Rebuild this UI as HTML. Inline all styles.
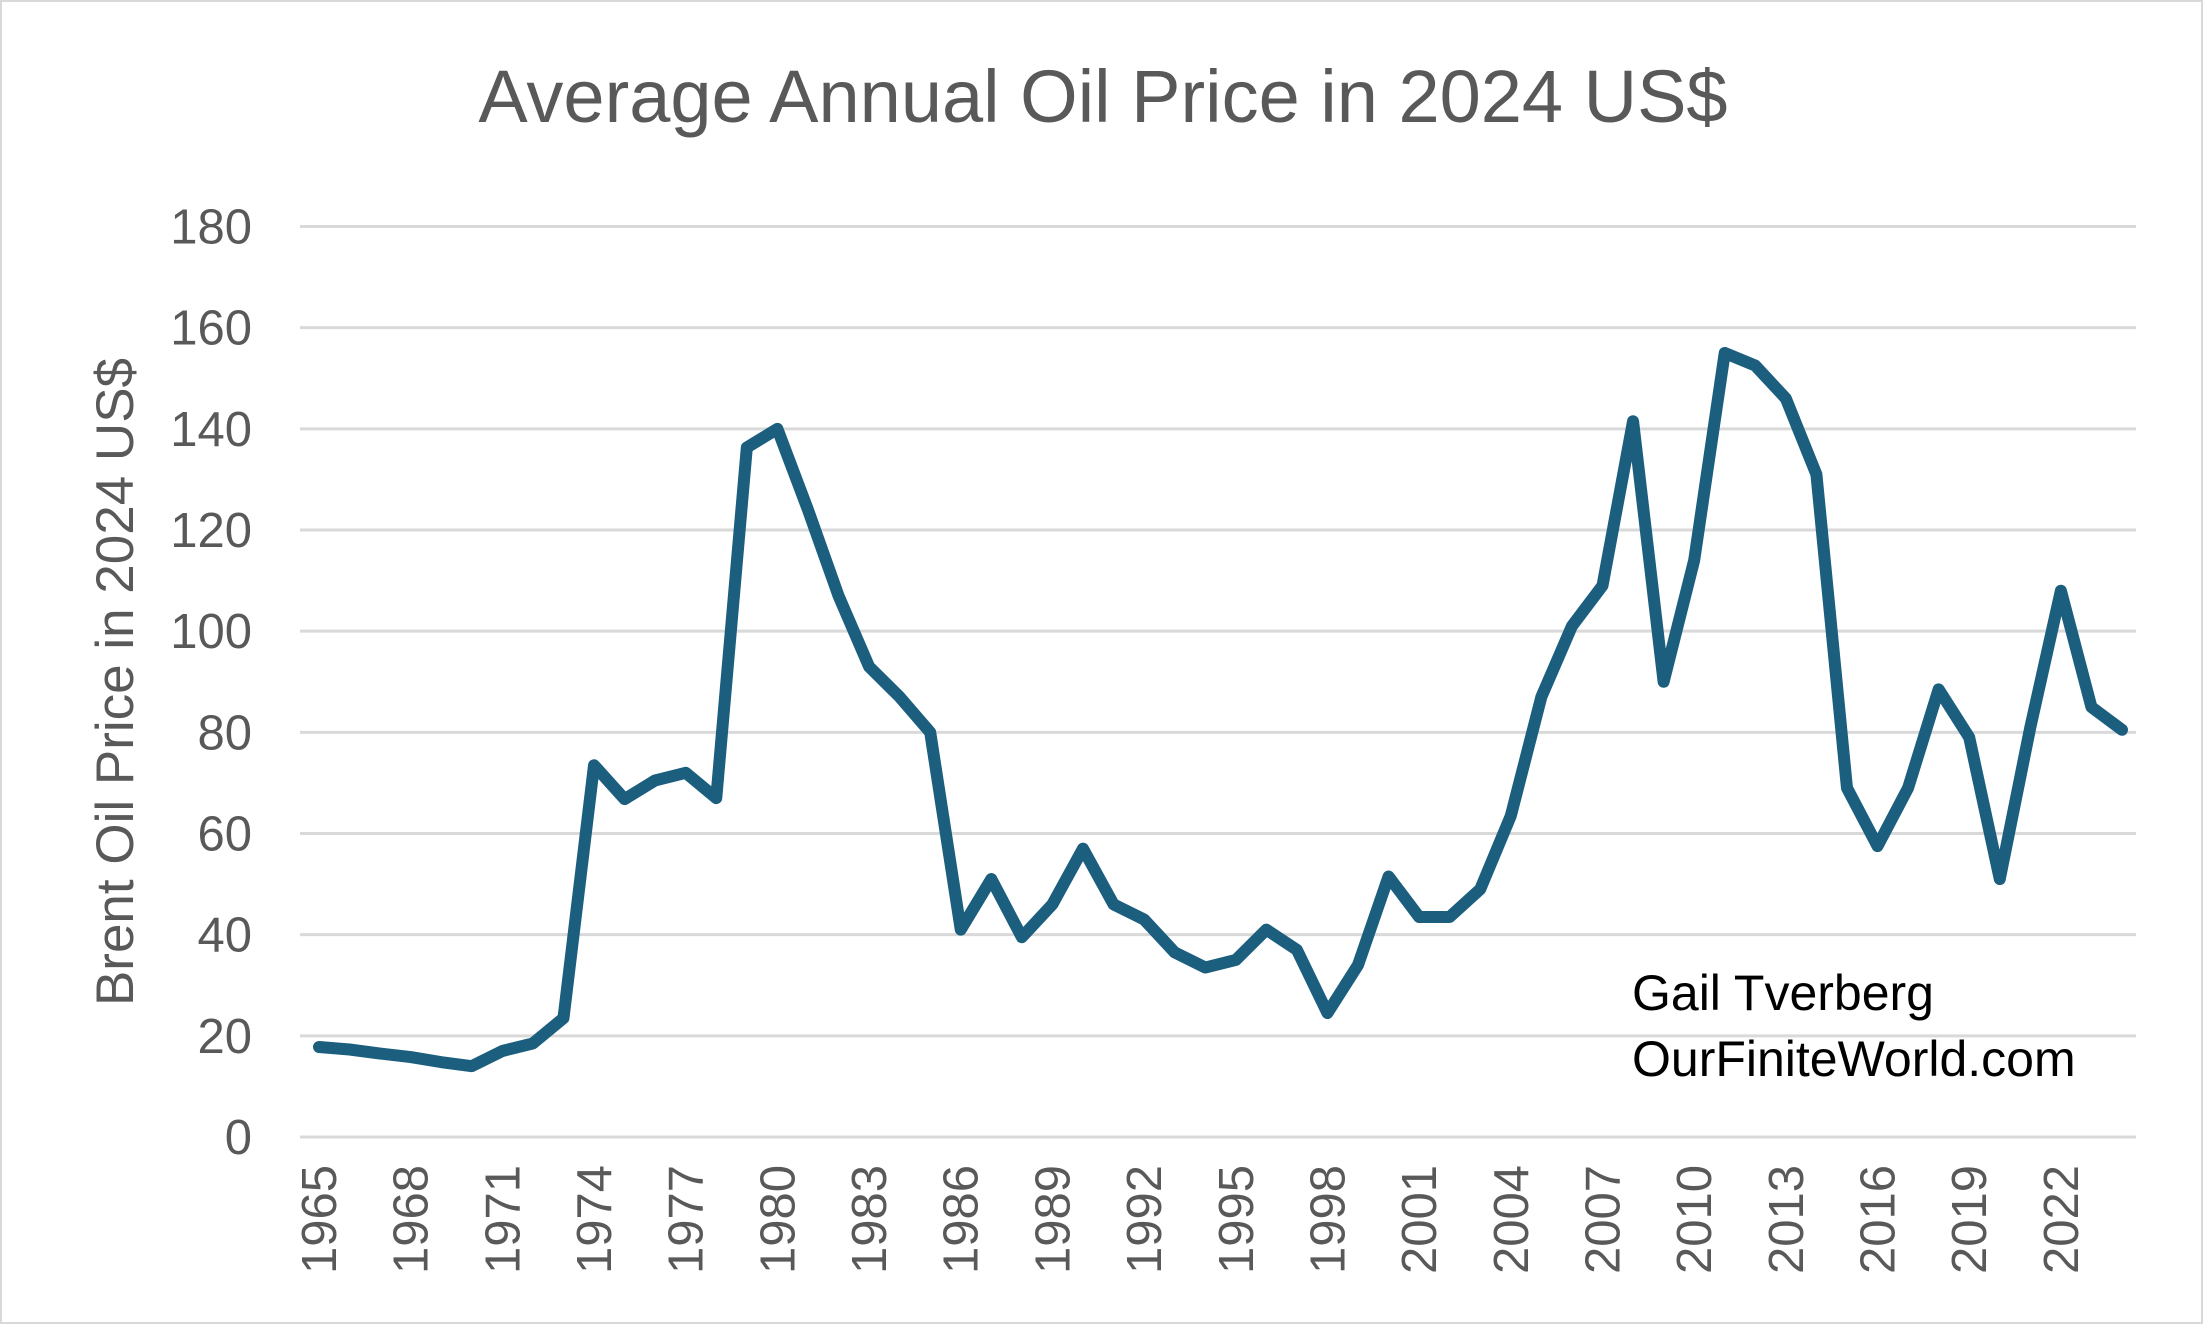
<!DOCTYPE html>
<html><head><meta charset="utf-8"><style>
html,body{margin:0;padding:0;background:#fff;}
svg{display:block;font-family:"Liberation Sans",sans-serif;}
</style></head><body>
<svg id="chart" width="2206" height="1330" viewBox="0 0 2206 1330" xmlns="http://www.w3.org/2000/svg">
<rect x="0" y="0" width="2206" height="1330" fill="#fff"/>
<rect x="1" y="1" width="2201" height="1322" fill="none" stroke="#d9d9d9" stroke-width="2"/>
<text x="1103" y="122" text-anchor="middle" font-size="74" fill="#595959">Average Annual Oil Price in 2024 US$</text>
<text transform="translate(133,682) rotate(-90)" text-anchor="middle" font-size="53" fill="#595959">Brent Oil Price in 2024 US$</text>
<g id="grid"></g><g id="yticks"></g><g id="xticks"></g><g id="series"></g>
<text x="1632" y="1010" font-size="50" fill="#000">Gail Tverberg</text>
<text x="1632" y="1076" font-size="50" fill="#000">OurFiniteWorld.com</text>
</svg>
<script>
const years=[];for(let y=1965;y<=2024;y++)years.push(y);
const prices=[17.8,17.3,16.5,15.8,14.8,14.0,17.0,18.5,23.5,73.5,66.8,70.5,72.0,67.0,136.3,140,124,107,93,87,80,41,51,39.5,46,57,46,43,36.5,33.5,35,41,37,24.5,34,51.5,43.5,43.5,49,63.5,87,101,109,141.5,90,114,155,152.5,146,131,69,57.5,69,88.5,79,51,81,108,85,80.5];
const yTicks=[0,20,40,60,80,100,120,140,160,180];
const xLabels=[1965,1968,1971,1974,1977,1980,1983,1986,1989,1992,1995,1998,2001,2004,2007,2010,2013,2016,2019,2022];
const NS="http://www.w3.org/2000/svg";
const xs=y=>319+(y-1965)*(2122-319)/59;
const ys=v=>1137-v*(1137-226.5)/180;
function mk(t,a,p){const e=document.createElementNS(NS,t);for(const k in a)e.setAttribute(k,a[k]);p.appendChild(e);return e;}
const g=document.getElementById('grid'),yt=document.getElementById('yticks'),xt=document.getElementById('xticks'),sg=document.getElementById('series');
yTicks.forEach(v=>{
 const l=mk('line',{x1:300,x2:2136,y1:ys(v),y2:ys(v),stroke:'#d9d9d9','stroke-width':3},g);
 
 
 const t=mk('text',{x:252,y:ys(v)+17,'text-anchor':'end','font-size':49,fill:'#595959'},yt);
 t.textContent=v;
 
 
});
xLabels.forEach(y=>{
 const t=mk('text',{transform:`translate(${xs(y)+17},1165) rotate(-90)`,'text-anchor':'end','font-size':49,fill:'#595959'},xt);
 t.textContent=y;
 
 
});
const p=mk('polyline',{points:years.map((y,i)=>xs(y)+','+ys(prices[i])).join(' '),fill:'none',stroke:'#1b5e7e','stroke-width':12,'stroke-linejoin':'round','stroke-linecap':'round'},sg);


</script>
</body></html>
